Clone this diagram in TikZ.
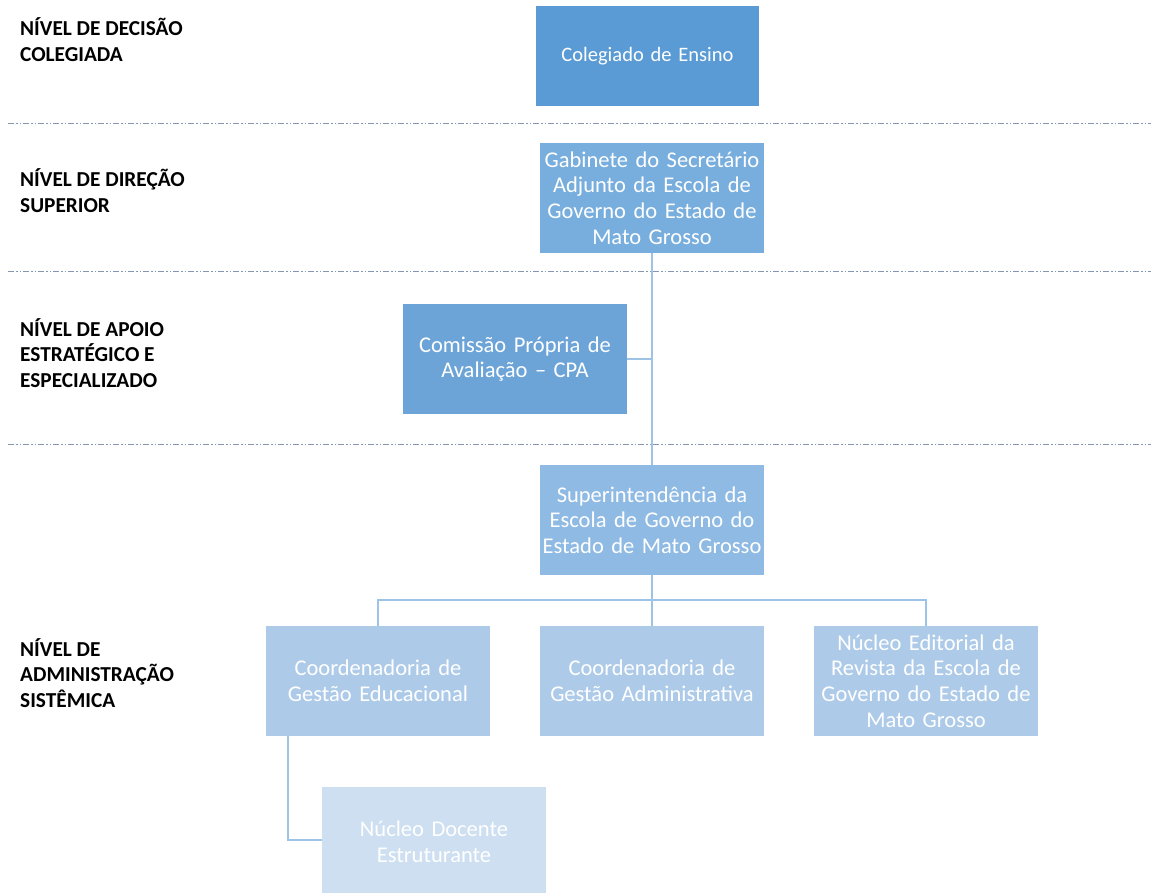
\documentclass[tikz,border=0pt]{standalone}
\usepackage{fontspec}
\setmainfont{Carlito}
\begin{document}
\begin{tikzpicture}[x=1pt,y=-1pt,
  box/.style={rectangle,inner sep=0pt,minimum width=224pt,minimum height=110pt,text width=222pt,align=center,text=white,font=\fontsize{22.5}{25.7}\selectfont},
  lvl/.style={anchor=base west,align=left,inner sep=0pt,font=\bfseries\fontsize{21.3}{25.5}\selectfont,text=black},
  sep/.style={draw=sepc,line width=1pt,dash pattern=on 6pt off 2pt on 1.5pt off 2pt on 1.5pt off 2pt},
  conn/.style={draw=connc,line width=1.6pt}]
\definecolor{c1}{HTML}{5B9BD5}
\definecolor{c2}{HTML}{78AEDD}
\definecolor{c3}{HTML}{6CA4D8}
\definecolor{c4}{HTML}{8EBAE3}
\definecolor{c5}{HTML}{ADCBE8}
\definecolor{c6}{HTML}{CDDFF0}
\definecolor{sepc}{HTML}{8497B0}
\definecolor{connc}{HTML}{9DC3E6}
\useasboundingbox (0,0) rectangle (1151,892);
% separators
\coordinate (s1a) at (8,123); \coordinate (s1b) at (1151,123);
\coordinate (s2a) at (8,271); \coordinate (s2b) at (1151,271);
\coordinate (s3a) at (8,444); \coordinate (s3b) at (1151,444);
\draw[sep] (s1a) -- (s1b);
\draw[sep] (s2a) -- (s2b);
\draw[sep] (s3a) -- (s3b);
% level labels (anchored at baseline of last line)
\node[lvl] (l1) at (20,61) {NÍVEL DE DECISÃO\\COLEGIADA};
\node[lvl] (l2) at (20,212) {NÍVEL DE DIREÇÃO\\SUPERIOR};
\node[lvl] (l3) at (20,387) {NÍVEL DE APOIO\\ESTRATÉGICO E\\ESPECIALIZADO};
\node[lvl] (l4) at (20,707) {NÍVEL DE\\ADMINISTRAÇÃO\\SISTÊMICA};
% boxes
\node[box,fill=c1,minimum width=223pt,minimum height=100pt,font=\fontsize{20.5}{25}\selectfont] (col) at (647.5,56) {Colegiado de Ensino};
\node[box,fill=c2] (gab) at (652,198) {Gabinete do Secretário\\Adjunto da Escola de\\Governo do Estado de\\Mato Grosso};
\node[box,fill=c3] (cpa) at (515,359) {Comissão Própria de\\Avaliação – CPA};
\node[box,fill=c4] (sup) at (652,520) {Superintendência da\\Escola de Governo do\\Estado de Mato Grosso};
\node[box,fill=c5] (ce) at (378,681) {Coordenadoria de\\Gestão Educacional};
\node[box,fill=c5] (ca) at (652,681) {Coordenadoria de\\Gestão Administrativa};
\node[box,fill=c5] (ne) at (926,681) {Núcleo Editorial da\\Revista da Escola de\\Governo do Estado de\\Mato Grosso};
\node[box,fill=c6] (nd) at (434,842) {Núcleo Docente\\Estruturante};
% connectors
\coordinate (j1) at (652,359);
\coordinate (j2) at (652,600);
\draw[conn] (gab.south) -- (sup.north);
\draw[conn] (cpa.east) -- (j1);
\draw[conn] (sup.south) -- (j2);
\draw[conn] (ce.north) |- (j2) -| (ne.north);
\draw[conn] (j2) -- (ca.north);
\draw[conn] ([xshift=-90pt]ce.south) |- (nd.west |- 0,840);
\end{tikzpicture}
\end{document}
